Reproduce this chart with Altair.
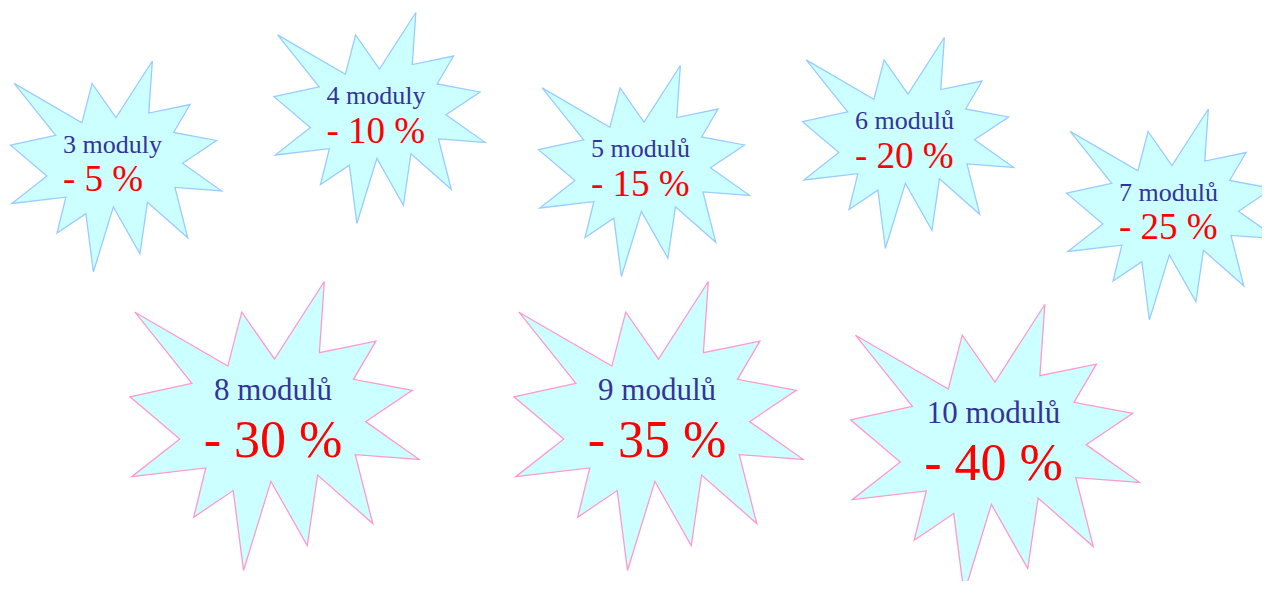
import altair as alt
import pandas as pd

# ---- content ----
modules = ["3 moduly", "4 moduly", "5 modulů", "6 modulů", "7 modulů",
           "8 modulů", "9 modulů", "10 modulů"]
discounts = ["- 5 %", "- 10 %", "- 15 %", "- 20 %", "- 25 %",
             "- 30 %", "- 35 %", "- 40 %"]
group = ["small"] * 5 + ["large"] * 3

# ---- layout (page pixel coordinates of each burst centre) ----
center_x = [116, 379.5, 644, 908, 1172, 274.5, 658.5, 995]
center_y = [166.5, 118, 171, 143, 214.5, 426, 426, 449]

df = pd.DataFrame({"modules": modules, "discount": discounts, "group": group,
                   "cx": center_x, "cy": center_y})

# "Explosion 1" burst outline (21600 x 21600 design grid)
burst = [(10800, 5800), (8352, 2295), (7312, 6320), (370, 2295), (4627, 7617),
         (0, 8615), (3722, 11775), (135, 14587), (5667, 13937), (4762, 17617),
         (7715, 15627), (8485, 21600), (10532, 14935), (13247, 19737),
         (14020, 14457), (18145, 18095), (16837, 12942), (21600, 13290),
         (17607, 10475), (21097, 8137), (16702, 7315), (18380, 4457),
         (14155, 5325), (14522, 0)]
path = "M" + " L".join(f"{x / 10800 - 1:.4f} {y / 10800 - 1:.4f}" for x, y in burst) + " Z"

W, H = 1254, 573
xs = alt.Scale(domain=[8, 8 + W])
ys = alt.Scale(domain=[8, 8 + H], reverse=True)
X = alt.X("cx:Q", scale=xs, axis=None)
Y = alt.Y("cy:Q", scale=ys, axis=None)

FONT = "Liberation Serif"
base = alt.Chart(df)

small = base.transform_filter("datum.group == 'small'")
large = base.transform_filter("datum.group == 'large'")

small_burst = small.mark_point(shape=path, filled=True, fill="#ccffff", stroke="#99ccff",
                               strokeWidth=1.3, size=211 * 211, opacity=1).encode(x=X, y=Y)
large_burst = large.mark_point(shape=path, filled=True, fill="#ccffff", stroke="#ff99cc",
                               strokeWidth=1.3, size=289 * 289, opacity=1).encode(x=X, y=Y)

small_top = small.mark_text(font=FONT, fontSize=26, color="#333399", align="left",
                            baseline="alphabetic", dx=-53, dy=-14).encode(x=X, y=Y, text="modules:N")
small_bot = small.mark_text(font=FONT, fontSize=37, color="#ff0000", align="left",
                            baseline="alphabetic", dx=-53, dy=24.5).encode(x=X, y=Y, text="discount:N")
large_top = large.mark_text(font=FONT, fontSize=31, color="#333399", align="center",
                            baseline="alphabetic", dx=-1.5, dy=-26.5).encode(x=X, y=Y, text="modules:N")
large_bot = large.mark_text(font=FONT, fontSize=52, color="#ff0000", align="center",
                            baseline="alphabetic", dx=-1.5, dy=30.5).encode(x=X, y=Y, text="discount:N")

chart = alt.layer(small_burst, large_burst, small_top, small_bot, large_top, large_bot).properties(
    width=W, height=H, padding=0, autosize=alt.AutoSizeParams(type="none"),
    background="white"
).configure_view(stroke=None)

chart.save("out.html", embed_options={"renderer": "svg", "actions": False})
